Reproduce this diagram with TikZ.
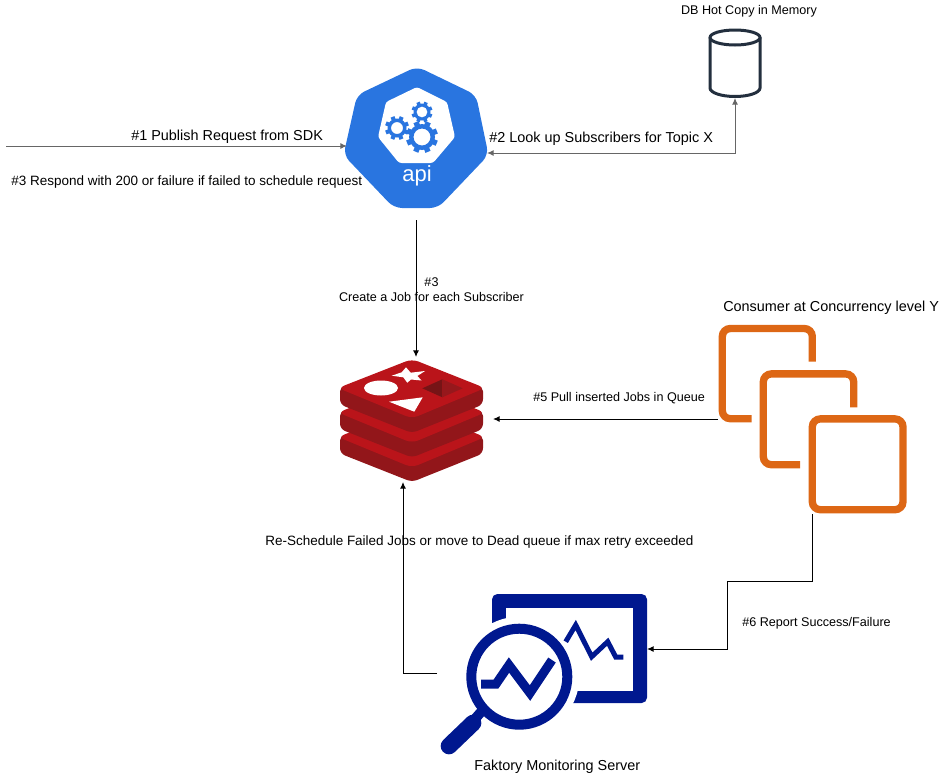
\documentclass[tikz,border=0pt]{standalone}
\usepackage{fontspec}
\setmainfont{Liberation Sans}
\usepackage{tikz}
\usetikzlibrary{arrows.meta,calc,positioning}
\definecolor{ApiBlue}{RGB}{41,117,224}
\definecolor{RedisRed}{RGB}{186,20,26}
\definecolor{RedisDark}{RGB}{146,22,26}
\definecolor{RedisDeep}{RGB}{118,20,22}
\definecolor{RedisMid}{RGB}{150,24,28}
\definecolor{MonitorBlue}{RGB}{0,24,143}
\definecolor{ConsumerOrange}{RGB}{221,103,21}
\definecolor{DbInk}{RGB}{35,47,62}
\definecolor{LineGray}{RGB}{102,102,102}
\newcommand{\apigear}[5]{%
  \begin{scope}[shift={(#1,#2)}]
    \foreach \a in {0,45,...,315}
      \fill[ApiBlue,rotate=\a+22] (-#3*0.17,-#4*0.85) rectangle (#3*0.17,-#3);
    \fill[ApiBlue,even odd rule] (0,0) circle ({#4*0.75pt}) (0,0) circle ({#5*0.75pt});
  \end{scope}}
\newcommand{\redislayer}[1]{%
  \begin{scope}[yshift=-#1*0.75pt]
    \fill[RedisDark,rounded corners=4pt] (340,386)--(340,404.5)--(412,433)--(483,404.5)--(483,386)--cycle;
    \fill[RedisRed,rounded corners=5pt] (412,359)--(485,388)--(412,418.5)--(338,388)--cycle;
  \end{scope}}
\begin{document}
\begin{tikzpicture}[x=0.75pt,y=-0.75pt,>=Latex,
    big/.style={font=\fontsize{10.82}{13}\selectfont,inner sep=0pt},
    mid/.style={font=\fontsize{10.12}{12}\selectfont,inner sep=0pt},
    small/.style={font=\fontsize{9.45}{11.4}\selectfont,inner sep=0pt},
    link/.style={draw=black,line width=0.75pt,-{Latex[length=5pt,width=4.5pt]}},
    graylink/.style={draw=LineGray,line width=0.75pt,-{Latex[length=5pt,width=4.5pt]}}]
  \useasboundingbox (0,0) rectangle (944,775);
  \coordinate (reqstart) at (6,146);
  \coordinate (apileft) at (347,146);
  \coordinate (apiright) at (487,153);
  \coordinate (dbbottom) at (735,98);
  \coordinate (apibottom) at (416,220);
  \coordinate (redistop) at (416,357);
  \coordinate (redisright) at (493,419);
  \coordinate (redisbottom) at (403,482);
  \coordinate (consleft) at (718,419);
  \coordinate (consbottom) at (812,514);
  \coordinate (monleft) at (437,673);
  \coordinate (monright) at (647,649);
  % api server
  \fill[ApiBlue,rounded corners=6pt] (417,66.5)--(476,95)--(488.5,155)--(438,208)--(394,208)--(343.5,155)--(357,95)--cycle;
  \fill[white,rounded corners=2pt] (417,87)--(447,102)--(455,137)--(433,163)--(399,163)--(378,137)--(386,102)--cycle;
  \apigear{422}{112}{10.5}{8.5}{5.5}
  \apigear{397}{128}{12}{9.5}{6}
  \apigear{422}{137}{16}{13}{8.5}
  \node[font=\fontsize{16.5}{19}\selectfont,text=white,inner sep=0pt] (apitext) at (417,176) {api};
  % database
  \draw[DbInk,line width=2.25pt,fill=white] (710,37.5)--(710,88) arc[start angle=180,end angle=0,x radius=25,y radius=8.5]--(760,37.5);
  \draw[DbInk,line width=2.25pt] (735,37.5) ellipse[x radius=25,y radius=7.5];
  % redis
  \redislayer{49}
  \redislayer{24.5}
  \redislayer{0}
  \fill[white] (381,388) ellipse[x radius=17,y radius=7.5];
  \fill[white] (406,367.3)--(410.7,372.7)--(425,371)--(417.3,376)--(421.7,380.5)--(411,379.5)--(407.3,382.7)--(403.3,377.3)--(391.7,375.7)--(401.7,372.3)--cycle;
  \fill[white] (389,401.7)--(422.7,397.3)--(414.3,411.7)--cycle;
  \fill[RedisDeep] (422.3,388.3)--(442.3,379.3)--(442.3,397.3)--cycle;
  \fill[RedisMid] (442.3,379.3)--(462.7,388.3)--(442.3,397.3)--cycle;
  % consumers
  \begin{scope}[ConsumerOrange,line width=5.5pt,rounded corners=6pt]
    \draw (812.3,361.7)--(812.3,328.5)--(722.3,328.5)--(722.3,418.7)--(751.7,418.7);
    \draw (853.7,407.3)--(853.7,373.9)--(763.3,373.9)--(763.3,464.7)--(800,464.7);
    \draw (812.3,418.9)--(903,418.9)--(903,509.7)--(812.3,509.7)--cycle;
  \end{scope}
  % monitoring
  \fill[MonitorBlue,rounded corners=4pt] (492,594) rectangle (647,703);
  \fill[white] (506,607.5) rectangle (633,691);
  \fill[white] (519.3,676.7) circle[radius=60];
  \draw[MonitorBlue,line width=7.5pt] (519.3,676.7) circle[radius=48];
  \draw[MonitorBlue,line width=3.75pt,miter limit=10] (565.7,641.7)--(575.7,625)--(591.7,656.7)--(607.7,641.7)--(615.7,657)--(623.3,657);
  \draw[MonitorBlue,line width=6.75pt,miter limit=10] (481,684)--(496,684)--(509,665)--(530,693)--(552,660);
  \draw[MonitorBlue,line width=7.5pt] (481,712)--(474,720);
  \draw[MonitorBlue,line width=12.5pt,line cap=round] (473,723)--(449,746);
  % connectors
  \draw[graylink] (reqstart)--(apileft);
  \draw[graylink,{Latex[length=5pt,width=4.5pt]}-{Latex[length=5pt,width=4.5pt]}] (apiright)-|(dbbottom);
  \draw[link] (apibottom)--(redistop);
  \draw[link] (consleft)--(redisright);
  \draw[link] (monleft)-|(redisbottom);
  \coordinate (consdrop) at (812,581);
  \coordinate (consturn) at (727,581);
  \draw[link] (consbottom)--(consdrop)--(consturn)|-(monright);
  % labels
  \node[small] (dblabel) at (749,11) {DB Hot Copy in Memory};
  \node[big,anchor=west] (publishlabel) at (131,137) {\#1 Publish Request from SDK};
  \node[big,anchor=west] (lookuplabel) at (489,139) {\#2 Look up Subscribers for Topic X};
  \node[mid,anchor=west] (respondlabel) at (11,182) {\#3 Respond with 200 or failure if failed to schedule request};
  \node[small,align=center] (joblabel) at (431.5,290) {\#3\\Create a Job for each Subscriber};
  \node[small,anchor=west] (pulllabel) at (533,398.5) {\#5 Pull inserted Jobs in Queue};
  \node[big,anchor=west] (consumerlabel) at (723,308) {Consumer at Concurrency level Y};
  \node[mid,anchor=west] (rescheduleabel) at (265,542) {Re-Schedule Failed Jobs or move to Dead queue if max retry exceeded};
  \node[small,anchor=west] (reportlabel) at (742,623.5) {\#6 Report Success/Failure};
  \node[big,anchor=west] (monitorlabel) at (474,767) {Faktory Monitoring Server};
\end{tikzpicture}
\end{document}
